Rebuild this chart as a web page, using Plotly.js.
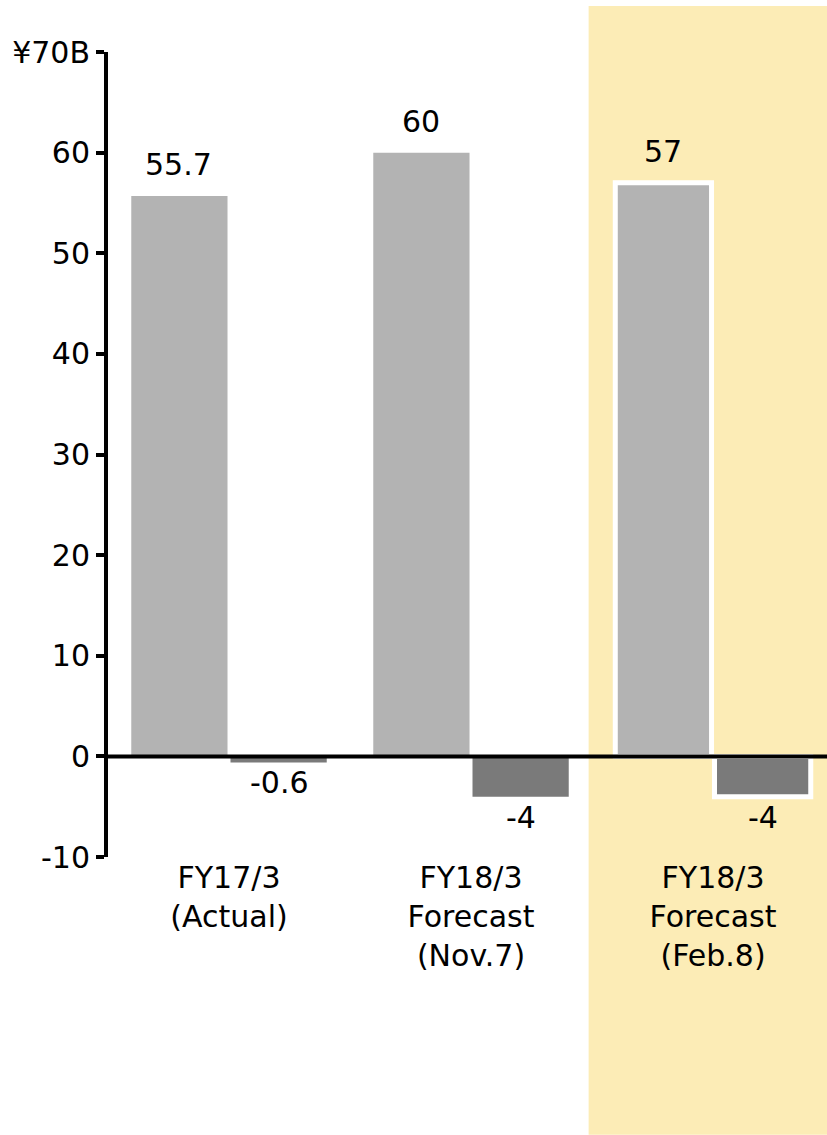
<!DOCTYPE html>
<html>
<head>
<meta charset="utf-8">
<script src="https://cdn.plot.ly/plotly-3.0.1.min.js"></script>
<style>html,body{margin:0;padding:0;background:#fff;}#chart{width:827px;height:1135px;}</style>
</head>
<body>
<div id="chart"></div>
<script>
const categories = ['FY17/3<br>(Actual)', 'FY18/3<br>Forecast<br>(Nov.7)', 'FY18/3<br>Forecast<br>(Feb.8)'];
const primaryValues = [55.7, 60, 57];
const secondaryValues = [-0.6, -4, -4];
const yTickValues = [-10, 0, 10, 20, 30, 40, 50, 60, 70];
const yTickLabels = ['-10', '0', '10', '20', '30', '40', '50', '60', '¥70B'];
const highlightIndex = 2;

const FONT = 'DejaVu Sans, Verdana, sans-serif';
const lineColors = categories.map((c, i) => i === highlightIndex ? '#ffffff' : 'rgba(0,0,0,0)');
const lineWidths = categories.map((c, i) => i === highlightIndex ? 5 : 0);

const traces = [
  {
    type: 'bar', x: categories, y: primaryValues,
    marker: {color: '#b3b3b3', line: {color: lineColors, width: lineWidths}},
    hoverinfo: 'none'
  },
  {
    type: 'bar', x: categories, y: secondaryValues,
    marker: {color: '#7a7a7a', line: {color: lineColors, width: lineWidths}},
    hoverinfo: 'none'
  }
];

const OFFSET = 0.207;
const annotations = [];
primaryValues.forEach((v, i) => {
  annotations.push({x: i - OFFSET, y: v, xref: 'x', yref: 'y', text: String(v), showarrow: false,
    yanchor: 'bottom', yshift: 12, font: {family: FONT, size: 30, color: '#000'}});
});
secondaryValues.forEach((v, i) => {
  annotations.push({x: i + OFFSET, y: v, xref: 'x', yref: 'y', text: String(v), showarrow: false,
    yanchor: 'top', yshift: -1, font: {family: FONT, size: 30, color: '#000'}});
});

const layout = {
  width: 827, height: 1135,
  margin: {l: 108, r: 0, t: 52, b: 278},
  paper_bgcolor: '#ffffff', plot_bgcolor: 'rgba(0,0,0,0)',
  showlegend: false,
  barmode: 'group', bargap: 0.18, bargroupgap: 0.03,
  font: {family: FONT, size: 30, color: '#000'},
  xaxis: {
    type: 'category', range: [-0.5, 2.471], showline: false, showgrid: false, zeroline: false,
    ticks: '', tickfont: {family: FONT, size: 30, color: '#000'}, fixedrange: true
  },
  yaxis: {
    range: [-10, 70], tickmode: 'array', tickvals: yTickValues, ticktext: yTickLabels,
    showline: true, linecolor: '#000', linewidth: 4, ticks: 'outside', ticklen: 8, tickwidth: 4,
    tickcolor: '#000', showgrid: false, zeroline: false, ticklabelstandoff: 0,
    tickfont: {family: FONT, size: 30, color: '#000'}, fixedrange: true
  },
  shapes: [
    {type: 'rect', xref: 'x', yref: 'paper', x0: highlightIndex - 0.514, x1: highlightIndex + 1, y0: -0.345, y1: 1.057,
      fillcolor: '#fcecb6', line: {width: 0}, layer: 'below'},
    {type: 'line', xref: 'paper', yref: 'y', x0: 0, x1: 1, y0: 0, y1: 0,
      line: {color: '#000', width: 4}, layer: 'above'}
  ],
  annotations: annotations
};

Plotly.newPlot('chart', traces, layout, {displayModeBar: false, staticPlot: true});
</script>
</body>
</html>
